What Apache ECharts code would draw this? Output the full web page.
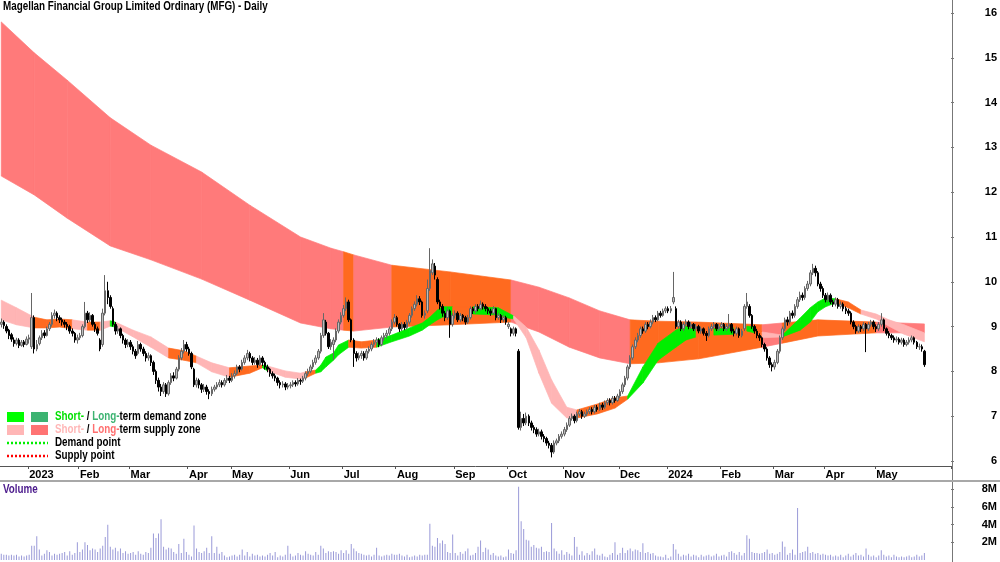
<!DOCTYPE html>
<html><head><meta charset="utf-8">
<script src="https://cdn.jsdelivr.net/npm/echarts@6/dist/echarts.min.js"></script>
<style>html,body{margin:0;padding:0;background:#fff}#c{width:1000px;height:562px}</style>
</head><body><div id="c"></div>
<script>
const chartTitle = 'Magellan Financial Group Limited Ordinary (MFG) - Daily';
const firstDay = '2022-12-14';
const lastDay = '2024-05-28';
const holidays = ['2022-12-26','2022-12-27','2023-01-02','2023-01-26','2023-04-07','2023-04-10','2023-04-25','2023-06-12','2023-12-25','2023-12-26','2024-01-01','2024-01-26','2024-03-29','2024-04-01','2024-04-25'];
const emptySlots = 10;
const monthNames = ['Jan','Feb','Mar','Apr','May','Jun','Jul','Aug','Sep','Oct','Nov','Dec'];
const priceTicks = [6,7,8,9,10,11,12,13,14,15,16];
const volumeTicks = [2,4,6,8];

// [open, close, low, high]
const candles = [
// Dec 2022
[9.05,9.10,8.98,9.18],[9.10,9.02,8.95,9.14],[9.00,8.90,8.85,9.05],[8.92,8.80,8.72,8.95],[8.82,8.72,8.66,8.86],[8.70,8.62,8.55,8.76],[8.62,8.70,8.58,8.75],[8.70,8.58,8.52,8.74],[8.58,8.65,8.55,8.70],[8.66,8.60,8.54,8.70],[8.60,8.72,8.58,8.78],
// Jan 2023
[8.72,8.75,8.62,8.82],[8.55,9.20,8.50,9.75],[9.20,8.50,8.40,9.25],[8.50,8.60,8.45,8.70],[8.62,8.75,8.58,8.80],[8.75,8.85,8.70,8.92],[8.86,8.80,8.74,8.92],[8.80,8.95,8.78,9.00],[8.95,9.05,8.90,9.10],[9.05,9.25,9.00,9.32],
[9.25,9.30,9.18,9.38],[9.30,9.20,9.12,9.34],[9.20,9.15,9.08,9.25],[9.15,9.10,9.02,9.20],[9.10,9.05,8.98,9.15],[9.05,9.00,8.92,9.10],[9.00,8.90,8.84,9.04],[8.90,8.85,8.78,8.96],[8.85,8.70,8.64,8.88],[8.70,8.75,8.62,8.82],
// Feb
[8.75,8.80,8.70,8.86],[8.80,9.00,8.76,9.05],[9.00,9.30,8.96,9.55],[9.30,9.15,9.08,9.35],[9.15,9.25,9.10,9.32],[9.25,9.05,9.00,9.28],[9.05,8.95,8.88,9.10],[8.95,8.85,8.80,9.00],[8.70,8.50,8.45,8.74],[8.60,9.30,8.55,9.40],
[9.30,9.80,9.25,10.15],[9.80,9.65,9.50,10.00],[9.65,9.45,9.40,9.70],[9.40,9.05,9.00,9.45],[9.05,8.90,8.82,9.10],[8.90,8.95,8.84,9.02],[8.95,8.80,8.74,8.98],[8.80,8.70,8.62,8.84],[8.70,8.60,8.52,8.74],[8.60,8.65,8.54,8.72],
// Mar
[8.65,8.55,8.48,8.70],[8.55,8.45,8.38,8.60],[8.45,8.35,8.28,8.50],[8.40,8.60,8.36,8.68],[8.60,8.50,8.44,8.64],[8.50,8.40,8.34,8.55],[8.40,8.30,8.22,8.45],[8.30,8.35,8.24,8.42],[8.35,8.20,8.12,8.38],[8.20,8.00,7.92,8.24],
[8.00,7.80,7.72,8.04],[7.80,7.65,7.55,7.86],[7.65,7.55,7.45,7.72],[7.55,7.70,7.50,7.76],[7.70,7.50,7.43,7.74],[7.50,7.75,7.46,7.80],[7.75,7.90,7.70,7.96],[7.90,7.85,7.78,7.98],[7.85,8.05,7.82,8.10],[8.05,8.30,8.00,8.36],
[8.30,8.45,8.25,8.52],[8.45,8.60,8.40,8.70],[8.60,8.50,8.44,8.66],
// Apr
[8.50,8.40,8.35,8.55],[8.40,8.10,8.05,8.44],[8.05,7.70,7.65,8.08],[7.70,7.80,7.64,7.86],[7.80,7.70,7.62,7.84],[7.70,7.60,7.52,7.74],[7.60,7.65,7.54,7.72],[7.65,7.55,7.48,7.70],[7.55,7.50,7.38,7.60],[7.50,7.60,7.45,7.66],
[7.60,7.65,7.55,7.70],[7.65,7.70,7.60,7.76],[7.70,7.75,7.65,7.82],[7.75,7.70,7.64,7.80],[7.70,7.80,7.66,7.85],[7.80,7.85,7.74,7.92],[7.85,7.80,7.74,7.90],
// May
[7.80,7.90,7.76,7.96],[7.90,7.95,7.84,8.02],[7.95,8.10,7.92,8.15],[8.10,8.05,7.98,8.14],[8.05,8.20,8.02,8.26],[8.20,8.30,8.15,8.36],[8.30,8.40,8.25,8.48],[8.40,8.30,8.22,8.44],[8.30,8.20,8.14,8.34],[8.20,8.25,8.15,8.32],
[8.25,8.15,8.08,8.30],[8.15,8.30,8.12,8.36],[8.30,8.20,8.12,8.34],[8.20,8.10,8.04,8.24],[8.10,8.05,7.98,8.15],[8.05,7.95,7.88,8.08],[7.95,7.90,7.84,8.00],[7.90,7.85,7.78,7.95],[7.85,7.75,7.68,7.88],[7.75,7.70,7.62,7.80],
[7.70,7.72,7.64,7.78],[7.72,7.65,7.58,7.76],[7.65,7.68,7.60,7.74],
// Jun
[7.68,7.70,7.62,7.76],[7.70,7.75,7.65,7.80],[7.75,7.72,7.66,7.80],[7.72,7.80,7.68,7.85],[7.80,7.78,7.70,7.84],[7.78,7.85,7.74,7.90],[7.85,7.95,7.80,8.00],[7.95,8.00,7.90,8.06],[8.00,8.10,7.96,8.15],[8.10,8.20,8.05,8.26],
[8.20,8.30,8.15,8.36],[8.30,8.45,8.26,8.50],[8.45,8.80,8.40,8.86],[8.80,9.15,8.75,9.30],[9.10,8.85,8.80,9.15],[8.85,8.55,8.50,8.88],[8.55,8.65,8.48,8.72],[8.60,8.70,8.25,8.76],[8.70,8.90,8.65,8.96],[8.90,9.10,8.85,9.16],
[9.10,9.25,9.05,9.32],
// Jul
[9.25,9.40,9.20,9.48],[9.40,9.55,9.35,9.65],[9.55,9.15,9.10,9.60],[9.15,8.70,8.65,9.18],[8.70,8.40,8.10,8.74],[8.40,8.30,8.22,8.45],[8.30,8.35,8.25,8.42],[8.35,8.40,8.28,8.46],[8.40,8.30,8.24,8.45],[8.30,8.45,8.26,8.50],
[8.45,8.50,8.40,8.56],[8.50,8.60,8.45,8.65],[8.60,8.65,8.54,8.72],[8.65,8.70,8.58,8.76],[8.70,8.60,8.54,8.74],[8.60,8.75,8.56,8.80],[8.75,8.80,8.68,8.86],[8.80,8.85,8.74,8.92],[8.85,8.95,8.80,9.00],[8.95,9.10,8.90,9.16],
[9.10,9.20,9.05,9.28],
// Aug
[9.20,9.05,9.00,9.24],[9.05,8.95,8.88,9.08],[8.95,9.05,8.90,9.10],[9.05,8.98,8.92,9.10],[8.98,9.10,8.94,9.15],[9.10,9.25,9.05,9.30],[9.25,9.40,9.20,9.45],[9.40,9.50,9.35,9.56],[9.50,9.62,9.45,9.70],[9.62,9.55,9.48,9.68],
[9.55,9.25,9.20,9.58],[9.25,9.30,9.18,9.36],[9.35,9.85,9.30,10.05],[9.85,10.25,9.80,10.75],[10.20,10.40,10.15,10.50],[10.35,10.15,10.05,10.42],[10.05,9.55,9.50,10.10],[9.55,9.45,9.38,9.60],[9.45,9.30,9.22,9.50],[9.30,9.20,9.12,9.35],
[9.20,9.35,9.15,9.42],[9.35,9.05,8.75,9.38],[9.05,9.25,9.00,9.30],
// Sep
[9.25,9.30,9.18,9.36],[9.30,9.15,9.10,9.34],[9.15,9.25,9.10,9.30],[9.25,9.20,9.12,9.28],[9.20,9.10,9.04,9.24],[9.10,9.20,9.06,9.26],[9.20,9.40,9.16,9.45],[9.40,9.35,9.28,9.44],[9.35,9.45,9.30,9.50],[9.45,9.40,9.34,9.50],
[9.40,9.50,9.36,9.58],[9.50,9.45,9.38,9.54],[9.45,9.40,9.34,9.50],[9.40,9.35,9.28,9.44],[9.35,9.30,9.24,9.40],[9.30,9.40,9.26,9.46],[9.40,9.20,9.14,9.42],[9.20,9.25,9.15,9.30],[9.25,9.15,9.08,9.28],[9.15,9.20,9.10,9.26],
[9.20,9.10,9.04,9.24],
// Oct
[9.00,9.05,8.95,9.10],[8.95,8.85,8.78,8.98],[8.85,8.95,8.80,9.00],[8.95,8.85,8.78,8.98],[8.45,6.75,6.70,8.50],[6.75,6.95,6.68,7.10],[6.95,6.85,6.78,7.05],[6.85,7.00,6.80,7.08],[7.00,6.85,6.78,7.04],[6.85,6.75,6.68,6.90],
[6.75,6.70,6.62,6.80],[6.70,6.60,6.54,6.75],[6.60,6.65,6.55,6.72],[6.65,6.55,6.48,6.70],[6.55,6.50,6.42,6.60],[6.50,6.40,6.34,6.54],[6.40,6.35,6.28,6.45],[6.35,6.20,6.08,6.40],[6.20,6.40,6.16,6.46],[6.40,6.45,6.35,6.50],
[6.45,6.55,6.40,6.60],[6.55,6.60,6.50,6.66],
// Nov
[6.60,6.70,6.55,6.76],[6.70,6.80,6.65,6.86],[6.80,6.95,6.76,7.00],[6.95,7.00,6.90,7.06],[7.00,6.90,6.84,7.04],[6.90,7.05,6.86,7.10],[7.05,7.10,7.00,7.16],[7.10,7.00,6.94,7.14],[7.00,7.05,6.96,7.10],[7.05,7.10,7.00,7.15],
[7.10,7.15,7.05,7.20],[7.15,7.10,7.04,7.20],[7.10,7.20,7.06,7.25],[7.20,7.15,7.10,7.25],[7.15,7.25,7.12,7.30],[7.25,7.20,7.14,7.30],[7.20,7.30,7.16,7.35],[7.30,7.35,7.25,7.40],[7.35,7.30,7.24,7.40],[7.30,7.40,7.26,7.45],
[7.40,7.35,7.30,7.45],[7.35,7.45,7.32,7.50],
// Dec
[7.45,7.55,7.40,7.60],[7.55,7.70,7.50,7.75],[7.70,7.85,7.65,7.90],[7.85,8.10,7.80,8.15],[8.10,8.30,8.05,8.36],[8.30,8.55,8.25,8.60],[8.55,8.70,8.50,8.76],[8.70,8.80,8.65,8.86],[8.80,8.95,8.75,9.00],[8.95,8.90,8.84,9.00],
[8.90,9.05,8.86,9.10],[9.05,9.00,8.94,9.10],[9.00,9.10,8.96,9.16],[9.10,9.20,9.05,9.26],[9.20,9.15,9.10,9.25],[9.15,9.30,9.12,9.35],[9.30,9.25,9.20,9.35],[9.25,9.35,9.22,9.40],[9.35,9.40,9.30,9.45],
// Jan 2024
[9.40,9.35,9.30,9.45],[9.35,9.40,9.30,9.46],[9.55,9.65,9.50,10.22],[9.40,9.00,8.95,9.45],[9.00,9.10,8.95,9.15],[9.10,8.95,8.90,9.14],[8.95,9.05,8.90,9.10],[9.05,9.10,9.00,9.16],[9.10,9.00,8.94,9.14],[9.00,9.05,8.95,9.10],
[9.05,8.95,8.90,9.08],[8.95,9.00,8.90,9.06],[9.00,8.90,8.85,9.04],[8.90,8.95,8.84,9.00],[8.95,8.85,8.80,8.98],[8.85,8.80,8.68,8.90],[8.80,8.95,8.76,9.00],[8.95,9.00,8.90,9.06],[9.00,9.05,8.95,9.10],[9.05,8.95,8.90,9.08],
[8.95,9.00,8.90,9.06],
// Feb
[9.00,9.05,8.95,9.10],[9.05,8.95,8.90,9.08],[8.95,9.00,8.90,9.06],[9.00,9.05,8.95,9.28],[9.05,8.90,8.85,9.08],[8.90,8.85,8.78,8.95],[8.85,8.95,8.80,9.00],[8.95,8.80,8.75,8.98],[8.80,8.90,8.76,8.95],[8.95,9.45,8.90,9.50],
[9.45,9.55,9.40,9.75],[9.45,9.25,9.20,9.50],[9.25,9.00,8.95,9.28],[9.00,8.90,8.84,9.04],[8.90,8.80,8.74,8.95],[8.80,8.75,8.68,8.85],[8.75,8.60,8.54,8.78],[8.60,8.50,8.44,8.64],[8.50,8.30,8.24,8.54],[8.30,8.15,8.08,8.34],
[8.15,8.10,8.00,8.20],
// Mar
[8.10,8.20,8.04,8.26],[8.20,8.45,8.16,8.50],[8.45,8.75,8.40,8.80],[8.75,8.95,8.70,9.00],[8.95,9.15,8.90,9.20],[9.15,9.10,9.02,9.22],[9.10,9.30,9.05,9.35],[9.30,9.25,9.18,9.36],[9.25,9.45,9.20,9.50],[9.45,9.60,9.40,9.66],
[9.60,9.70,9.55,9.78],[9.70,9.65,9.58,9.76],[9.65,9.85,9.60,9.90],[9.85,9.95,9.80,10.02],[9.95,10.20,9.90,10.26],[10.20,10.30,10.15,10.40],[10.30,10.20,10.12,10.36],[10.20,9.95,9.90,10.24],[9.95,9.85,9.78,10.00],[9.85,9.70,9.64,9.90],
// Apr
[9.70,9.60,9.54,9.75],[9.60,9.70,9.55,9.76],[9.70,9.55,9.50,9.74],[9.55,9.50,9.44,9.60],[9.50,9.60,9.45,9.65],[9.60,9.45,9.40,9.64],[9.45,9.50,9.40,9.56],[9.50,9.40,9.34,9.54],[9.40,9.35,9.28,9.45],[9.35,9.30,9.24,9.40],
[9.30,9.10,9.05,9.34],[9.10,9.00,8.94,9.14],[9.00,8.90,8.84,9.04],[8.90,9.00,8.86,9.05],[9.00,8.95,8.88,9.04],[8.95,9.05,8.90,9.10],[9.05,8.95,8.43,9.08],[8.95,9.05,8.90,9.10],[9.05,9.10,9.00,9.15],[9.10,9.00,8.94,9.14],
// May
[9.00,8.95,8.88,9.05],[8.95,9.05,8.90,9.10],[9.05,9.15,9.00,9.30],[9.15,8.95,8.90,9.18],[8.95,8.85,8.80,8.98],[8.85,8.80,8.74,8.90],[8.80,8.75,8.70,8.84],[8.75,8.70,8.64,8.80],[8.70,8.72,8.65,8.78],[8.72,8.65,8.60,8.76],
[8.65,8.70,8.60,8.75],[8.70,8.60,8.55,8.74],[8.60,8.65,8.56,8.70],[8.65,8.70,8.60,8.76],[8.70,8.75,8.65,8.80],[8.75,8.65,8.60,8.78],[8.65,8.55,8.50,8.68],[8.55,8.55,8.48,8.62],[8.55,8.50,8.44,8.60],[8.45,8.15,8.10,8.48]
];

// volume in millions
const volumeM = [
0.7,0.6,0.6,0.5,0.6,0.5,0.6,0.4,0.5,0.4,0.5,
0.6,1.6,1.6,2.7,1.2,0.5,0.7,1.1,0.9,0.5,0.7,0.6,0.7,0.8,0.9,0.5,1.0,0.6,0.8,2.0,
0.9,1.2,2.0,1.7,1.1,1.3,1.2,0.9,1.3,1.6,2.6,4.0,1.5,1.2,1.4,1.0,1.3,0.8,1.0,0.7,
0.8,0.9,0.6,1.0,0.7,0.6,0.9,0.8,1.4,3.0,2.5,3.0,4.6,1.5,1.2,1.4,1.3,0.9,0.7,1.8,0.8,2.4,0.9,
0.6,0.4,3.9,1.3,0.9,0.8,1.0,1.4,0.8,2.7,0.8,1.5,0.7,0.9,0.5,0.3,0.4,
0.5,0.6,0.4,0.6,1.2,0.5,0.9,0.4,0.7,0.5,0.6,0.4,0.5,0.4,0.6,0.8,0.5,0.9,0.3,0.5,0.4,0.6,1.6,
0.7,0.4,0.5,0.8,0.6,0.5,1.0,0.7,0.6,0.5,0.9,0.6,1.6,1.3,0.8,1.0,0.9,1.0,0.9,0.7,1.1,
0.8,1.1,0.7,1.8,1.3,1.0,0.8,0.7,0.6,0.5,0.6,0.4,0.6,1.4,0.5,0.4,0.5,0.6,0.5,0.7,0.6,
0.6,0.7,0.5,0.4,0.6,0.3,0.4,0.5,0.4,0.6,0.5,0.6,0.6,4.1,1.6,1.5,2.5,1.9,2.2,1.8,0.9,0.8,2.9,
0.8,0.5,0.9,0.7,1.0,1.3,0.5,0.6,0.8,1.5,2.2,0.9,1.4,1.2,0.6,0.8,0.5,0.4,0.5,0.3,0.4,
1.2,0.8,0.7,1.1,8.3,4.4,3.5,2.3,2.2,1.5,1.7,1.4,1.3,1.5,0.9,1.0,0.9,4.2,1.3,1.0,0.7,1.1,
0.6,0.9,0.7,0.5,2.6,1.5,0.6,1.0,0.5,0.8,0.6,1.0,1.3,0.6,0.5,0.7,0.4,0.3,0.6,0.8,2.0,0.6,
0.8,1.4,0.8,1.1,1.3,1.0,1.2,1.1,0.9,1.9,0.8,0.9,0.7,0.8,0.5,0.4,0.4,0.3,0.6,
0.2,0.4,1.8,1.2,0.7,0.4,0.6,0.5,0.7,0.4,0.6,0.5,0.3,0.6,0.4,0.5,0.6,0.4,0.5,0.7,0.4,
0.5,0.6,0.4,0.9,1.0,0.8,0.6,0.9,0.5,0.8,2.8,2.4,0.9,0.8,0.8,0.7,0.8,0.9,1.2,0.7,0.8,
0.6,0.7,0.9,2.1,1.5,0.6,0.8,1.2,0.6,5.9,0.8,0.9,1.0,1.5,0.8,0.9,0.7,0.8,0.6,0.7,
0.6,0.5,0.6,0.4,0.5,0.4,0.6,0.3,0.5,0.7,0.4,0.6,0.8,0.5,0.6,0.4,1.3,0.6,0.4,0.5,
0.3,0.5,1.1,0.6,0.4,0.5,0.3,0.6,0.4,0.3,0.4,0.3,0.4,0.5,0.3,0.4,0.6,0.4,0.5,0.8
];

// Long-term band (trading-day index, upper, lower, zone of the segment that starts there)
const ltDays  = [0,13,26,43,59,79,98,118,130,135,139,154,177,201,212,224,236,248,259,275,300,308,322,345,364];
const ltUpper = [15.80,15.11,14.50,13.66,13.05,12.45,11.71,11.00,10.75,10.67,10.60,10.37,10.22,10.04,9.88,9.64,9.35,9.15,9.12,9.10,9.04,9.08,9.15,9.10,9.06];
const ltLower = [12.36,11.94,11.42,10.80,10.49,10.06,9.59,9.08,8.95,8.92,8.90,8.99,9.04,9.10,8.88,8.54,8.30,8.17,8.19,8.28,8.54,8.63,8.79,8.86,8.86];
const ltZone  = ['r','r','r','r','r','r','r','r','r','o','r','o','o','r','r','r','r','o','o','o','r','o','o','r','r'];

// Short-term band
const stDays  = [0,6,13,18,23,28,34,39,43,45,52,59,66,72,77,83,90,98,103,105,112,118,120,124,126,128,131,133,137,142,148,154,161,166,169,172,174,178,186,196,200,202,207,212,217,223,227,235,242,247,253,259,266,270,274,281,289,294,297,300,308,315,319,322,325,329,334,339,345,350,356,364];
const stUpper = [9.59,9.42,9.21,9.15,9.17,9.15,9.10,9.10,9.13,9.10,8.92,8.77,8.52,8.46,8.34,8.19,8.08,8.12,8.14,8.12,8.01,7.96,7.99,8.03,8.14,8.32,8.41,8.59,8.70,8.66,8.70,8.81,8.97,9.08,9.21,9.37,9.44,9.44,9.44,9.42,9.30,9.24,8.99,8.48,7.81,7.20,7.14,7.27,7.41,7.45,8.10,8.63,8.92,9.01,8.92,8.95,8.97,9.01,8.99,8.88,8.81,9.19,9.42,9.55,9.64,9.62,9.55,9.37,9.28,9.15,9.04,8.86];
const stLower = [9.15,9.04,8.97,8.97,8.99,8.95,8.92,8.92,9.01,8.99,8.77,8.54,8.30,8.25,8.19,7.99,7.87,7.96,8.08,8.01,7.87,7.83,7.85,7.96,7.99,8.10,8.25,8.37,8.54,8.52,8.54,8.66,8.79,8.92,9.04,9.15,9.21,9.26,9.28,9.26,9.19,9.17,8.75,7.96,7.29,6.96,6.96,7.05,7.18,7.38,7.74,8.25,8.54,8.70,8.77,8.81,8.83,8.90,8.86,8.75,8.77,8.92,9.10,9.33,9.44,9.53,9.42,9.28,9.17,9.01,8.83,8.66];
const stZone  = ['p','p','o','o','o','p','o','p','g','p','p','p','o','o','p','p','o','o','g','p','p','p','o','g','g','g','g','g','o','o','g','g','g','g','g','g','g','o','g','g','g','p','p','p','p','p','o','o','o','g','g','g','g','g','o','g','o','g','o','p','g','g','g','g','g','o','o','p','p','p','p','p'];

const zoneColors = { r: '#ff7a7a', p: '#ffb5b5', o: '#ff6a1f', g: '#00ee00', G: '#3cb371' };
const FONT = '"Liberation Sans",Arial,sans-serif';
const NARROW = 0.82;

// trading-day categories
const dates = [];
(function () {
  const d = new Date(firstDay + 'T00:00:00Z');
  const end = new Date(lastDay + 'T00:00:00Z');
  while (d <= end) {
    const s = d.toISOString().slice(0, 10);
    const wd = d.getUTCDay();
    if (wd !== 0 && wd !== 6 && holidays.indexOf(s) < 0) dates.push(s);
    d.setUTCDate(d.getUTCDate() + 1);
  }
})();
const categories = dates.slice();
for (let k = 1; k <= emptySlots; k++) categories.push('future' + k);

function isMonthStart(idx) {
  if (idx <= 0 || idx >= dates.length) return false;
  return dates[idx].slice(5, 7) !== dates[idx - 1].slice(5, 7);
}
function monthLabel(val) {
  if (!/^\d{4}-/.test(val)) return '';
  const m = +val.slice(5, 7);
  return m === 1 ? val.slice(0, 4) : monthNames[m - 1];
}

function bandSeries(name, days, up, lo, zone, z) {
  const data = [];
  for (let k = 0; k < days.length - 1; k++) data.push([days[k], up[k]]);
  return {
    type: 'custom', name: name, xAxisIndex: 0, yAxisIndex: 0, z: z, silent: true,
    data: data,
    encode: { x: 0, y: 1 },
    renderItem: function (params, api) {
      const k = params.dataIndex;
      const a = api.coord([days[k], up[k]]);
      const b = api.coord([days[k + 1], up[k + 1]]);
      const c = api.coord([days[k + 1], lo[k + 1]]);
      const d = api.coord([days[k], lo[k]]);
      const col = zoneColors[zone[k]];
      return {
        type: 'polygon',
        shape: { points: [a, b, c, d] },
        style: { fill: col, stroke: col, lineWidth: 0.7 }
      };
    }
  };
}

const chart = echarts.init(document.getElementById('c'), null, { renderer: 'canvas' });
const labelStyle = { fontFamily: FONT, fontSize: 11, fontWeight: 'bold', color: '#000' };
const F12 = 'bold 12px ' + FONT;

function txt(x, y, style) {
  return { type: 'text', z: 10, x: x, y: y, scaleX: NARROW, style: Object.assign({ verticalAlign: 'middle', font: F12 }, style) };
}

chart.setOption({
  animation: false,
  backgroundColor: '#fff',
  grid: [
    { left: 0, top: 0, width: 952, height: 466 },
    { left: 0, top: 482, width: 952, height: 78 }
  ],
  xAxis: [
    {
      type: 'category', gridIndex: 0, data: categories, boundaryGap: true,
      axisLine: { show: true, lineStyle: { color: '#555', width: 1 } },
      axisTick: { show: true, length: 3, interval: function (i) { return isMonthStart(i); }, lineStyle: { color: '#555' } },
      axisLabel: Object.assign({ show: true, interval: function (i) { return isMonthStart(i); }, formatter: monthLabel, align: 'left', margin: 3 }, labelStyle),
      splitLine: { show: false }
    },
    {
      type: 'category', gridIndex: 1, data: categories, boundaryGap: true,
      axisLine: { show: false }, axisTick: { show: false }, axisLabel: { show: false }, splitLine: { show: false }
    }
  ],
  yAxis: [
    {
      type: 'value', gridIndex: 0, position: 'right', min: 5.888, max: 16.29,
      axisLine: { show: false },
      axisTick: { show: true, length: 3, customValues: priceTicks, lineStyle: { color: '#777' } },
      axisLabel: Object.assign({ show: true, customValues: priceTicks, align: 'right', margin: 46 }, labelStyle),
      splitLine: { show: false }
    },
    {
      type: 'value', gridIndex: 1, position: 'right', min: 0, max: 8.83,
      axisLine: { show: false },
      axisTick: { show: true, length: 3, customValues: volumeTicks, lineStyle: { color: '#777' } },
      axisLabel: Object.assign({ show: true, customValues: volumeTicks, align: 'right', margin: 46, formatter: function (v) { return v + 'M'; } }, labelStyle),
      splitLine: { show: false }
    }
  ],
  series: [
    bandSeries('Long-term band', ltDays, ltUpper, ltLower, ltZone, 1),
    bandSeries('Short-term band', stDays, stUpper, stLower, stZone, 2),
    {
      type: 'candlestick', name: 'MFG', xAxisIndex: 0, yAxisIndex: 0, z: 3,
      data: candles, barWidth: 2,
      itemStyle: { color: '#bdbdbd', color0: '#000', borderColor: '#666', borderColor0: '#000', borderWidth: 1 }
    },
    {
      type: 'bar', name: 'Volume', xAxisIndex: 1, yAxisIndex: 1,
      data: volumeM, barWidth: 1, itemStyle: { color: '#9a9ad8' }
    }
  ],
  graphic: [
    { type: 'line', z: 10, shape: { x1: 952.5, y1: 0, x2: 952.5, y2: 562 }, style: { stroke: '#777', lineWidth: 1 } },
    { type: 'rect', z: 10, shape: { x: 0, y: 480, width: 1000, height: 2 }, style: { fill: '#a8a8a8' } },
    txt(3, 7, { text: chartTitle, fill: '#000' }),
    txt(3, 490, { text: 'Volume', fill: '#4b1a8c' }),
    { type: 'rect', z: 10, shape: { x: 7, y: 412, width: 17, height: 10 }, style: { fill: '#00ff00' } },
    { type: 'rect', z: 10, shape: { x: 31, y: 412, width: 17, height: 10 }, style: { fill: '#3cb371' } },
    { type: 'rect', z: 10, shape: { x: 7, y: 425, width: 17, height: 10 }, style: { fill: '#ffb6b6' } },
    { type: 'rect', z: 10, shape: { x: 31, y: 425, width: 17, height: 10 }, style: { fill: '#ff7373' } },
    { type: 'line', z: 10, shape: { x1: 7, y1: 443, x2: 48, y2: 443 }, style: { stroke: '#00ee00', lineWidth: 2.5, lineDash: [2, 2] } },
    { type: 'line', z: 10, shape: { x1: 7, y1: 456, x2: 48, y2: 456 }, style: { stroke: '#ff0000', lineWidth: 2.5, lineDash: [2, 2] } },
    txt(55, 417, { text: '{a|Short-}{k| / }{b|Long-}{k|term demand zone}',
      rich: { a: { fill: '#00e000', font: F12 }, b: { fill: '#3cb371', font: F12 }, k: { fill: '#000', font: F12 } } }),
    txt(55, 430, { text: '{a|Short-}{k| / }{b|Long-}{k|term supply zone}',
      rich: { a: { fill: '#ffb6b6', font: F12 }, b: { fill: '#ff6f6f', font: F12 }, k: { fill: '#000', font: F12 } } }),
    txt(55, 443, { text: 'Demand point', fill: '#000' }),
    txt(55, 456, { text: 'Supply point', fill: '#000' })
  ]
});
</script>
</body></html>
